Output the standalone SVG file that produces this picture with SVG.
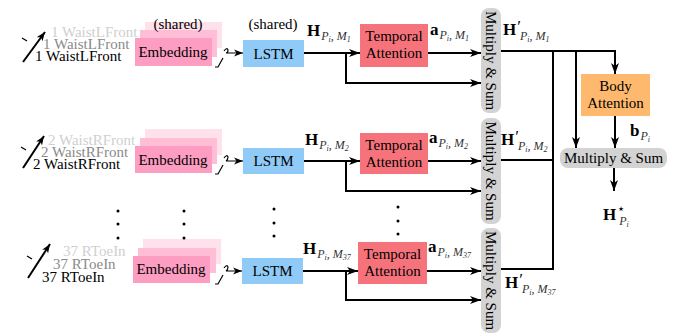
<svg xmlns="http://www.w3.org/2000/svg" width="686" height="336" viewBox="0 0 686 336">
<style>
text{font-family:"Liberation Serif","Times New Roman",serif;font-size:15px;fill:#000}
.c{text-anchor:middle}
.lt{fill:#cfcfcf}
.md{fill:#8a8a8a}
.bf{font-weight:bold;font-size:17px}
.s{font-style:italic;font-size:12px;fill:#333}
.ss{font-style:italic;font-size:8px;fill:#333}
.pr{font-size:17px;font-style:normal}
.e3{fill:#ffe1ec}
.e2{fill:#ffbdd6}
.e1{fill:#fd9dc1}
.lstm{fill:#8fcbf6}
.ta{fill:#f6737b}
.ba{fill:#ffb96e}
.ms{fill:#d3d3d3}
.ln{fill:none;stroke:#000;stroke-width:2}
.thin{fill:none;stroke:#000;stroke-width:1.2}
.dot{fill:#000}
</style>
<defs>
<marker id="ah" markerUnits="userSpaceOnUse" markerWidth="12" markerHeight="10" refX="11" refY="5" orient="auto">
<path d="M0,1 L11,5 L0,9 L3,5 z" fill="#000"/>
</marker>
<marker id="ahs" markerUnits="userSpaceOnUse" markerWidth="10" markerHeight="8" refX="9" refY="4" orient="auto">
<path d="M0,0.5 L9,4 L0,7.5 L2.5,4 z" fill="#000"/>
</marker>
</defs>

<!-- Row 1 -->
<g id="input1">
<text x="51" y="37" class="lt">1 WaistLFront</text>
<text x="43" y="49" class="md">1 WaistLFront</text>
<text x="35" y="61">1 WaistLFront</text>
</g>
<g id="embed1">
<rect x="145" y="22" width="77" height="26" class="e3"/>
<rect x="140" y="30" width="77" height="27" class="e2"/>
<rect x="135" y="38" width="77" height="28" class="e1"/>
<text x="178" y="29" class="c">(shared)</text>
<text x="173" y="57" class="c">Embedding</text>
</g>
<g id="lstm1">
<rect x="243" y="40" width="61" height="27" class="lstm"/>
<text x="273" y="29" class="c">(shared)</text>
<text x="273.5" y="59" class="c">LSTM</text>
</g>
<g id="ta1">
<rect x="360" y="24" width="68" height="43" class="ta"/>
<text x="394" y="41" class="c">Temporal</text>
<text x="394" y="58" class="c">Attention</text>
</g>
<g id="ms1">
<rect x="481" y="8" width="20" height="105" rx="8" class="ms"/>
<text transform="translate(491,60.5) rotate(90)" class="c" dominant-baseline="central">Multiply &amp; Sum</text>
</g>

<!-- Row 2 -->
<g id="input2">
<text x="48" y="145" class="lt">2 WaistRFront</text>
<text x="41" y="157" class="md">2 WaistRFront</text>
<text x="33" y="169">2 WaistRFront</text>
</g>
<g id="embed2">
<rect x="145" y="129" width="77" height="26" class="e3"/>
<rect x="140" y="138" width="77" height="26" class="e2"/>
<rect x="135" y="146" width="77" height="27" class="e1"/>
<text x="173" y="165" class="c">Embedding</text>
</g>
<g id="lstm2">
<rect x="243" y="148" width="61" height="26" class="lstm"/>
<text x="273.5" y="166" class="c">LSTM</text>
</g>
<g id="ta2">
<rect x="360" y="133" width="68" height="41" class="ta"/>
<text x="394" y="150" class="c">Temporal</text>
<text x="394" y="167" class="c">Attention</text>
</g>
<g id="ms2">
<rect x="481" y="118" width="20" height="106" rx="8" class="ms"/>
<text transform="translate(491,171) rotate(90)" class="c" dominant-baseline="central">Multiply &amp; Sum</text>
</g>

<!-- Row 3 -->
<g id="input3">
<text x="63" y="256" class="lt">37 RToeIn</text>
<text x="53" y="269" class="md">37 RToeIn</text>
<text x="42" y="282">37 RToeIn</text>
</g>
<g id="embed3">
<rect x="143" y="239" width="78" height="25" class="e3"/>
<rect x="138" y="248" width="78" height="25" class="e2"/>
<rect x="133" y="256" width="77" height="27" class="e1"/>
<text x="171" y="274" class="c">Embedding</text>
</g>
<g id="lstm3">
<rect x="242" y="258" width="61" height="26" class="lstm"/>
<text x="272.5" y="276" class="c">LSTM</text>
</g>
<g id="ta3">
<rect x="358" y="242" width="69" height="42" class="ta"/>
<text x="392.5" y="259" class="c">Temporal</text>
<text x="392.5" y="276" class="c">Attention</text>
</g>
<g id="ms3">
<rect x="481" y="228" width="20" height="105" rx="8" class="ms"/>
<text transform="translate(491,280.5) rotate(90)" class="c" dominant-baseline="central">Multiply &amp; Sum</text>
</g>

<!-- Body -->
<g id="bodyatt">
<rect x="581" y="74" width="69" height="42" class="ba"/>
<text x="615.5" y="91" class="c">Body</text>
<text x="615.5" y="108" class="c">Attention</text>
</g>
<g id="msbody">
<rect x="560" y="148" width="107" height="20" rx="8" class="ms"/>
<text x="613.5" y="163" class="c">Multiply &amp; Sum</text>
</g>

<!-- ellipsis dots -->
<g id="dots">
<circle cx="118" cy="211" r="1.5" class="dot"/><circle cx="118" cy="224" r="1.5" class="dot"/><circle cx="118" cy="238" r="1.5" class="dot"/>
<circle cx="184" cy="211" r="1.5" class="dot"/><circle cx="184" cy="224" r="1.5" class="dot"/><circle cx="184" cy="238" r="1.5" class="dot"/>
<circle cx="274" cy="209" r="1.5" class="dot"/><circle cx="274" cy="223" r="1.5" class="dot"/><circle cx="274" cy="236" r="1.5" class="dot"/>
<circle cx="398" cy="207" r="1.5" class="dot"/><circle cx="398" cy="221" r="1.5" class="dot"/><circle cx="398" cy="234" r="1.5" class="dot"/>
</g>

<!-- connectors -->
<g id="connectors">
<path d="M23,62 L45,32" class="ln" stroke-width="1.8" marker-end="url(#ahs)"/>
<path d="M22,38 L27,41" class="thin"/>
<path d="M23,168 L44,136" class="ln" stroke-width="1.8" marker-end="url(#ahs)"/>
<path d="M21,147 L26,150" class="thin"/>
<path d="M28,278 L50,244" class="ln" stroke-width="1.8" marker-end="url(#ahs)"/>
<path d="M27,256 L32,259" class="thin"/>
<path d="M215,67 H218 L223,58 M224,51 Q227,47 228,50 Q228,53 226,53 H243" class="thin" marker-end="url(#ahs)"/>
<path d="M215,174 H218 L223,165 M224,158 Q227,154 228,157 Q228,160 226,161 H243" class="thin" marker-end="url(#ahs)"/>
<path d="M215,284 H218 L223,275 M224,268 Q227,264 228,267 Q228,270 226,271 H242" class="thin" marker-end="url(#ahs)"/>
<path d="M304,53 H360" class="ln" marker-end="url(#ah)"/>
<path d="M346,53 V83 H481" class="ln" marker-end="url(#ah)"/>
<path d="M428,53 H481" class="ln" marker-end="url(#ah)"/>
<path d="M304,161 H360" class="ln" marker-end="url(#ah)"/>
<path d="M346,161 V191 H481" class="ln" marker-end="url(#ah)"/>
<path d="M428,161 H481" class="ln" marker-end="url(#ah)"/>
<path d="M303,271 H358" class="ln" marker-end="url(#ah)"/>
<path d="M346,271 V300 H481" class="ln" marker-end="url(#ah)"/>
<path d="M427,271 H481" class="ln" marker-end="url(#ah)"/>
<path d="M501,51 H615 V74" class="ln" marker-end="url(#ah)"/>
<path d="M553,51 V269 H501" class="ln"/>
<path d="M501,160 H553" class="ln"/>
<path d="M576,51 V148" class="ln" marker-end="url(#ah)"/>
<path d="M615,116 V148" class="ln" marker-end="url(#ah)"/>
<path d="M614,168 V191" class="ln" marker-end="url(#ah)"/>
</g>

<!-- math labels -->
<g id="labels">
<text x="307" y="36"><tspan class="bf">H</tspan><tspan class="s" dx="1" dy="4">P</tspan><tspan class="ss" dy="2">i</tspan><tspan class="s" dy="-2">, M</tspan><tspan class="ss" dy="2">1</tspan></text>
<text x="305" y="145"><tspan class="bf">H</tspan><tspan class="s" dx="1" dy="4">P</tspan><tspan class="ss" dy="2">i</tspan><tspan class="s" dy="-2">, M</tspan><tspan class="ss" dy="2">2</tspan></text>
<text x="303" y="254"><tspan class="bf">H</tspan><tspan class="s" dx="1" dy="4">P</tspan><tspan class="ss" dy="2">i</tspan><tspan class="s" dy="-2">, M</tspan><tspan class="ss" dy="2">37</tspan></text>

<text x="430" y="35"><tspan class="bf" font-size="16">a</tspan><tspan class="s" dx="1" dy="4">P</tspan><tspan class="ss" dy="2">i</tspan><tspan class="s" dy="-2">, M</tspan><tspan class="ss" dy="2">1</tspan></text>
<text x="429" y="143"><tspan class="bf" font-size="16">a</tspan><tspan class="s" dx="1" dy="4">P</tspan><tspan class="ss" dy="2">i</tspan><tspan class="s" dy="-2">, M</tspan><tspan class="ss" dy="2">2</tspan></text>
<text x="428" y="252"><tspan class="bf" font-size="16">a</tspan><tspan class="s" dx="1" dy="4">P</tspan><tspan class="ss" dy="2">i</tspan><tspan class="s" dy="-2">, M</tspan><tspan class="ss" dy="2">37</tspan></text>

<text x="503" y="35"><tspan class="bf">H</tspan><tspan class="pr" dx="1" dy="-3">′</tspan><tspan class="s" dx="-1" dy="8">P</tspan><tspan class="ss" dy="2">i</tspan><tspan class="s" dy="-2">, M</tspan><tspan class="ss" dy="2">1</tspan></text>
<text x="501" y="145"><tspan class="bf">H</tspan><tspan class="pr" dx="1" dy="-3">′</tspan><tspan class="s" dx="-1" dy="8">P</tspan><tspan class="ss" dy="2">i</tspan><tspan class="s" dy="-2">, M</tspan><tspan class="ss" dy="2">2</tspan></text>
<text x="505" y="288"><tspan class="bf">H</tspan><tspan class="pr" dx="1" dy="-3">′</tspan><tspan class="s" dx="-1" dy="8">P</tspan><tspan class="ss" dy="2">i</tspan><tspan class="s" dy="-2">, M</tspan><tspan class="ss" dy="2">37</tspan></text>

<text x="630" y="136"><tspan class="bf" font-size="16">b</tspan><tspan class="s" dx="1" dy="4">P</tspan><tspan class="ss" dy="2">i</tspan></text>
<text x="603" y="220"><tspan class="bf" font-size="19">H</tspan><tspan font-size="13" dx="1" dy="-7">⋆</tspan><tspan class="s" dx="-6" dy="12">P</tspan><tspan class="ss" dy="2">i</tspan></text>
</g>
</svg>
